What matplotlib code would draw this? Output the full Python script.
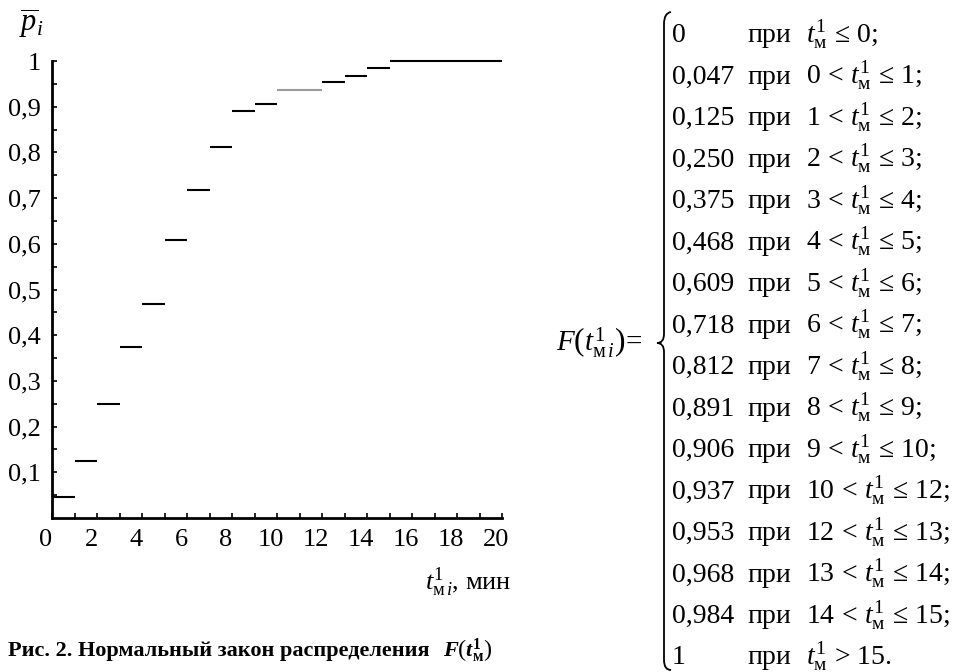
import matplotlib
matplotlib.use("Agg")
import matplotlib.pyplot as plt
from matplotlib.path import Path
from matplotlib.patches import PathPatch
from matplotlib.transforms import ScaledTranslation

plt.rcParams['font.family'] = ['Liberation Serif', 'DejaVu Serif']
plt.rcParams['mathtext.fontset'] = 'custom'
plt.rcParams['mathtext.rm'] = 'Liberation Serif'
plt.rcParams['mathtext.it'] = 'Liberation Serif:italic'
plt.rcParams['mathtext.bf'] = 'Liberation Serif:bold'
plt.rcParams['mathtext.bfit'] = 'Liberation Serif:bold:italic'

# intervals of t (min) and the distribution values F
t_lo = [None, 0, 1, 2, 3, 4, 5, 6, 7, 8, 9, 10, 12, 13, 14, 15]
t_hi = [0, 1, 2, 3, 4, 5, 6, 7, 8, 9, 10, 12, 13, 14, 15, None]
F_vals = [0, 0.047, 0.125, 0.250, 0.375, 0.468, 0.609, 0.718, 0.812,
          0.891, 0.906, 0.937, 0.953, 0.968, 0.984, 1]
y_ticks = [0.1, 0.2, 0.3, 0.4, 0.5, 0.6, 0.7, 0.8, 0.9, 1.0]
x_ticks = [0, 2, 4, 6, 8, 10, 12, 14, 16, 18, 20]
x_max = 20

W, H = 957, 672


def px(x, y):
    # pixel position (from top left) -> figure fraction
    return x / W, 1 - y / H


fig = plt.figure(figsize=(W / 100, H / 100), dpi=100)
ax = fig.add_axes([52 / W, (H - 518) / H, 450 / W, (518 - 61) / H])

for lo, hi, f in zip(t_lo, t_hi, F_vals):
    if lo is None:
        continue
    if hi is None:
        hi = x_max
    color = '#9a9a9a' if (lo, hi) == (10, 12) else 'black'
    ax.hlines(f, lo, hi, color=color, lw=1.5, clip_on=False)

ax.set_xlim(0, x_max)
ax.set_ylim(0, 1)
for s in ['top', 'right']:
    ax.spines[s].set_visible(False)
for s in ['left', 'bottom']:
    ax.spines[s].set_linewidth(2)

ax.set_yticks(y_ticks)
ax.set_yticklabels([('%g' % v).replace('.', ',') for v in y_ticks])
ax.set_yticks([v / 100 for v in range(5, 100, 10)], minor=True)
ax.set_xticks(x_ticks)
ax.set_xticklabels([str(v) for v in x_ticks])
ax.set_xticks(range(1, x_max, 2), minor=True)
ax.tick_params(which='both', direction='in', length=3.5, width=1.2, labelsize=19)
ax.tick_params(axis='y', pad=8)
ax.tick_params(axis='x', pad=8)
for lab in ax.get_xticklabels():
    lab.set_transform(lab.get_transform() + ScaledTranslation(-6 / 100, 0, fig.dpi_scale_trans))

fig.text(*px(31, 24), r'$\overline{p}_i$', fontsize=22, ha='center', va='center')
fig.text(*px(511, 590), r'$t^{1}_{\mathrm{м}\,i}$, мин', fontsize=19, ha='right', va='baseline')

fig.text(*px(8, 656), 'Рис. 2. Нормальный закон распределения', fontsize=16,
         fontweight='bold', ha='left', va='baseline')
fig.text(*px(443, 656), r'$\mathbfit{F}\left(\mathbfit{t}^{\mathbf{1}}_{\mathbf{м}}\right)$',
         fontsize=16, ha='left', va='baseline')

# piecewise formula on the right
fig.text(*px(556, 343), r'$F\left(t^{1}_{\mathrm{м}\,i}\right)\!=$', fontsize=21,
         ha='left', va='center')

for i, (lo, hi, f) in enumerate(zip(t_lo, t_hi, F_vals)):
    base = 42 + 41.5 * i
    if f in (0, 1):
        val = '%d' % f
    else:
        val = ('%.3f' % f).replace('.', ',')
    if lo is None:
        cond = r'$t^{1}_{\mathrm{м}}\,\leq\,%d;$' % hi
    elif hi is None:
        cond = r'$t^{1}_{\mathrm{м}}\,>\,%d.$' % lo
    else:
        cond = r'$%d\,<\,t^{1}_{\mathrm{м}}\,\leq\,%d;$' % (lo, hi)
    fig.text(*px(672, base), val, fontsize=20, ha='left', va='baseline')
    fig.text(*px(747, base), 'при', fontsize=20, ha='left', va='baseline')
    fig.text(*px(806, base), cond, fontsize=20, ha='left', va='baseline')

verts = [(671, 12), (664, 13), (664, 24),
         (664, 334),
         (664, 343), (657, 343),
         (664, 343), (664, 352),
         (664, 660),
         (664, 670), (671, 670)]
codes = [Path.MOVETO, Path.CURVE3, Path.CURVE3, Path.LINETO,
         Path.CURVE3, Path.CURVE3, Path.CURVE3, Path.CURVE3,
         Path.LINETO, Path.CURVE3, Path.CURVE3]
brace = Path([px(x, y) for x, y in verts], codes)
fig.add_artist(PathPatch(brace, transform=fig.transFigure, fill=False, lw=1.3, color='black'))

fig.savefig('out.png', dpi=100)
